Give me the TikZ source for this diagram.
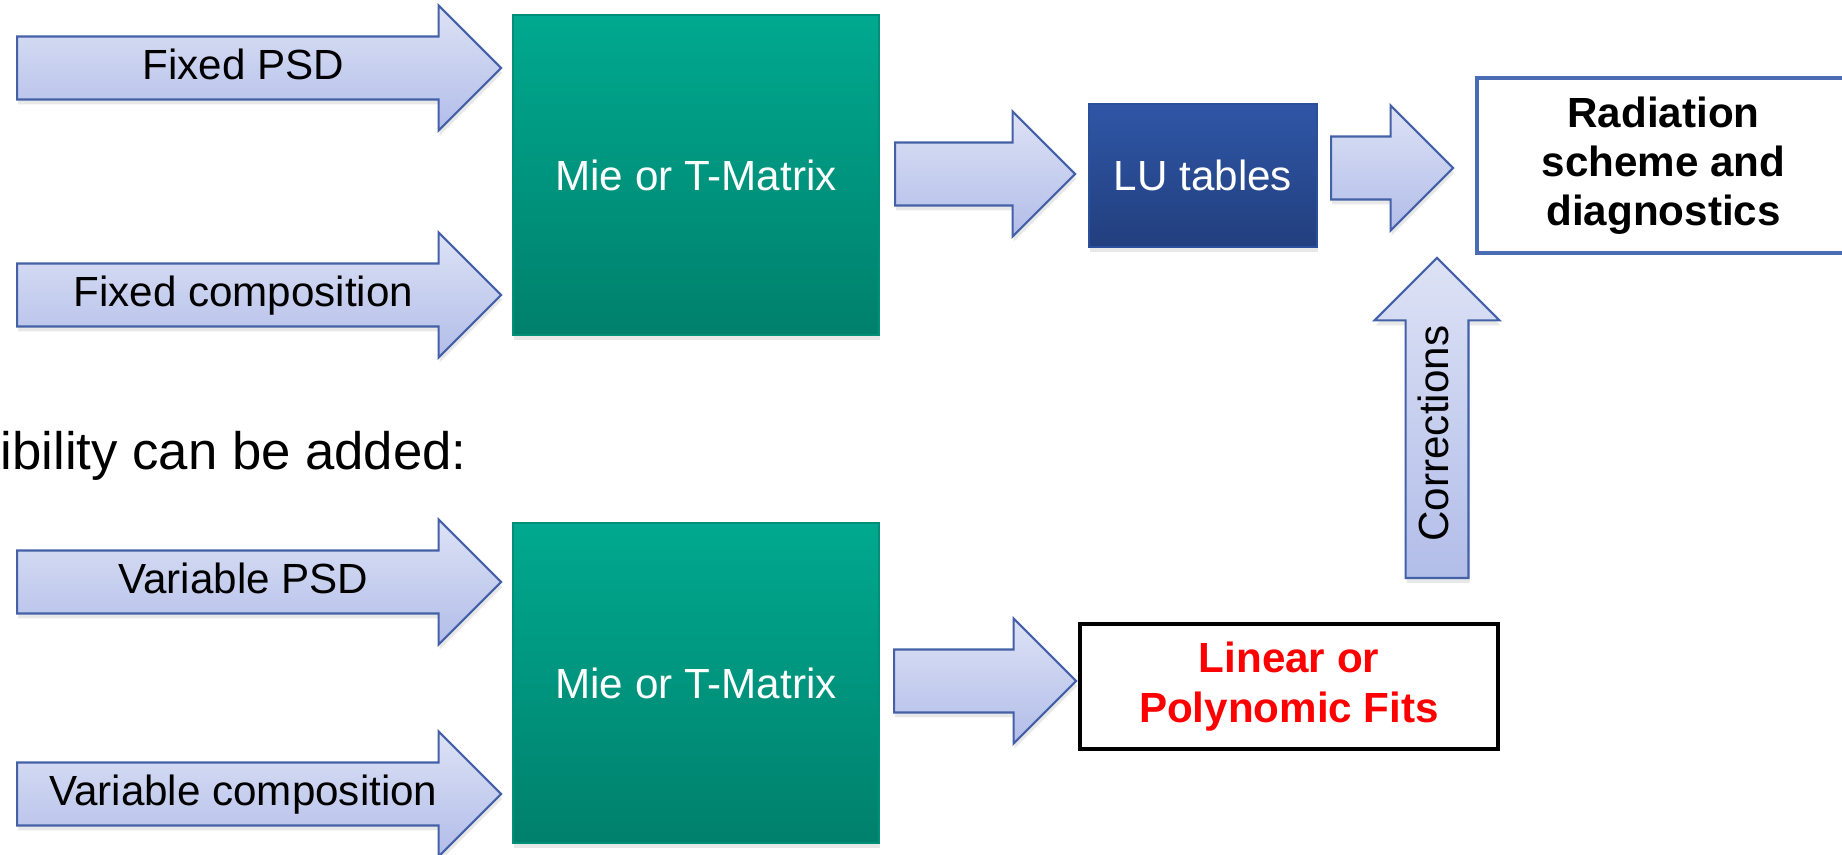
\documentclass[tikz,border=0pt]{standalone}
\usepackage{fontspec}
\setmainfont{Liberation Sans}
\usepackage{tikz}
\usetikzlibrary {shapes.arrows}
\usetikzlibrary {shadows}
\definecolor{arrowtop}{HTML}{DDE2F5}
\definecolor{arrowbot}{HTML}{B2BDE9}
\definecolor{arrowline}{HTML}{4461A8}
\definecolor{mietop}{HTML}{00A98F}
\definecolor{miebot}{HTML}{00806C}
\definecolor{lutop}{HTML}{2F56A6}
\definecolor{lubot}{HTML}{223F7E}
\definecolor{radline}{HTML}{4A6CB4}

\begin{document}
\begin{tikzpicture}[
    font=\fontsize{12}{14}\selectfont,
    blkarrow/.style={single arrow, anchor=tail, draw=arrowline, line width=0.6pt,
        top color=arrowtop, bottom color=arrowbot,
        single arrow head extend=0.31cm, minimum width=1.22cm,
        text height=8.8pt, text depth=2.5pt, inner ysep=3pt,
        drop shadow={opacity=0.18, shadow xshift=0.3pt, shadow yshift=-1.4pt}},
    miebox/.style={minimum width=3.66cm, minimum height=3.2cm, draw=miebot!60!mietop,
        line width=0.4pt, top color=mietop, bottom color=miebot, text=white,
        drop shadow={opacity=0.18, shadow xshift=0.3pt, shadow yshift=-1.4pt}},
    lubox/.style={minimum width=2.28cm, minimum height=1.43cm, draw=lutop!70!lubot,
        line width=0.4pt, top color=lutop, bottom color=lubot, text=white,
        drop shadow={opacity=0.18, shadow xshift=0.3pt, shadow yshift=-1.4pt}},
    outbox/.style={draw, line width=1.1pt, fill=white, align=center,
        font=\fontsize{12}{14}\selectfont\bfseries}
]
    \useasboundingbox (0,0) rectangle (18.42,8.54);
    \node [blkarrow, minimum height=4.84cm] (fixpsd) at (0.16,7.86) {Fixed PSD};
    \node [blkarrow, minimum height=4.84cm] (fixcomp) at (0.16,5.59) {Fixed composition};
    \node [miebox] (mie1) at (6.96,6.79) {Mie or T-Matrix};
    \node [blkarrow, minimum height=1.80cm] (tolu) at (8.94,6.80) {};
    \node [lubox] (lu) at (12.03,6.785) {LU tables};
    \node [blkarrow, minimum height=1.22cm] (torad) at (13.30,6.86) {};
    \node [outbox, draw=radline, minimum width=3.73cm, minimum height=1.75cm] (rad)
        at (16.635,6.885) {Radiation\\scheme and\\diagnostics};
    \node [blkarrow, rotate=90, minimum height=3.20cm] (corr) at (14.37,2.75) {Corrections};
    \node [anchor=base west, inner sep=0pt, font=\fontsize{15}{18}\selectfont] (flex)
        at (0,3.85) {ibility can be added:};
    \node [blkarrow, minimum height=4.84cm] (varpsd) at (0.16,2.72) {Variable PSD};
    \node [blkarrow, minimum height=4.84cm] (varcomp) at (0.16,0.60) {Variable composition};
    \node [miebox] (mie2) at (6.96,1.71) {Mie or T-Matrix};
    \node [blkarrow, minimum height=1.82cm] (tofit) at (8.93,1.73) {};
    \node [outbox, text=red, minimum width=4.18cm, minimum height=1.25cm] (fit)
        at (12.89,1.675) {Linear or\\Polynomic Fits};
\end{tikzpicture}
\end{document}
